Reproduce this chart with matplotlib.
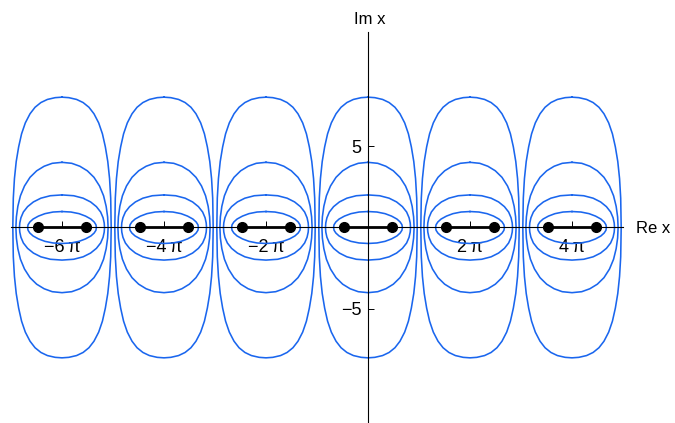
import numpy as np
import matplotlib.pyplot as plt

plt.rcParams['font.family'] = ['Liberation Sans', 'DejaVu Sans']

# centres of the cells (multiples of 2*pi) and their tick labels
centers = [-6 * np.pi, -4 * np.pi, -2 * np.pi, 0.0, 2 * np.pi, 4 * np.pi]
xtick_pos = [-6 * np.pi, -4 * np.pi, -2 * np.pi, 2 * np.pi, 4 * np.pi]
xtick_lab = ['\u22126\u2009\u03c0', '\u22124\u2009\u03c0', '\u22122\u2009\u03c0',
             '2\u2009\u03c0', '4\u2009\u03c0']
ytick_pos = [-5, 5]
ytick_lab = ['\u22125', '5']

# half length of the black cut (turning points at centre -/+ this)
cut_half = 1.48

# one quarter of each closed orbit (offset from centre, upper right), top -> axis
h1_x = [0.00, 0.55, 1.05, 1.45, 1.78, 1.98, 2.09, 2.12]
h1_y = [0.98, 0.95, 0.85, 0.70, 0.52, 0.34, 0.17, 0.00]

h2_x = [0.00, 0.72, 1.30, 1.76, 2.12, 2.38, 2.53, 2.60, 2.62]
h2_y = [2.00, 1.95, 1.80, 1.57, 1.28, 0.95, 0.60, 0.28, 0.00]

h4_x = [0.00, 0.60, 1.10, 1.56, 1.97, 2.31, 2.56, 2.72, 2.81, 2.84]
h4_y = [4.00, 3.94, 3.76, 3.48, 3.08, 2.55, 1.95, 1.30, 0.65, 0.00]

h8_x = [0.00, 0.42, 0.90, 1.30, 1.66, 1.97, 2.26, 2.49, 2.67, 2.82, 2.93, 3.00, 3.03]
h8_y = [8.00, 7.97, 7.86, 7.67, 7.38, 6.98, 6.42, 5.75, 4.95, 4.05, 3.00, 1.80, 0.00]

orbits = [(h1_x, h1_y), (h2_x, h2_y), (h4_x, h4_y), (h8_x, h8_y)]


def closed(qx, qy):
    qx, qy = np.asarray(qx), np.asarray(qy)
    xs = np.concatenate([qx, qx[::-1], -qx, -qx[::-1]])
    ys = np.concatenate([qy, -qy[::-1], -qy, qy[::-1]])
    return xs, ys


fig = plt.figure(figsize=(6.75, 4.23), dpi=100)
ax = fig.add_axes([11 / 675, 0.0, 612 / 675, 391 / 423])

blue = '#1a66ee'
for c in centers:
    for qx, qy in orbits:
        xs, ys = closed(qx, qy)
        ax.plot(xs + c, ys, color=blue, lw=1.15, zorder=2)
    ax.plot([c - cut_half, c + cut_half], [0, 0], color='black', lw=2.0,
            zorder=4, solid_capstyle='butt')
    ax.plot([c - cut_half, c + cut_half], [0, 0], 'o', color='black',
            ms=7, zorder=5)

ax.set_xlim(-7 * np.pi, 5 * np.pi)
ax.set_ylim(-12, 12)

for s in ['top', 'right']:
    ax.spines[s].set_visible(False)
ax.spines['left'].set_position(('data', 0))
ax.spines['bottom'].set_position(('data', 0))
for s in ['left', 'bottom']:
    ax.spines[s].set_linewidth(0.8)
    ax.spines[s].set_zorder(3)

ax.set_xticks(xtick_pos)
ax.set_xticklabels(xtick_lab)
ax.set_yticks(ytick_pos)
ax.set_yticklabels(ytick_lab)
ax.tick_params(axis='x', direction='in', length=4, width=0.7, pad=8,
               labelsize=13)
ax.tick_params(axis='y', direction='in', length=4, width=0.7, pad=4.5,
               labelsize=13)
ax.patch.set_visible(False)

fig.text(370 / 675, 1 - 19 / 423, 'Im x', ha='center', va='center', fontsize=12)
fig.text(636 / 675, 1 - 228 / 423, 'Re x', ha='left', va='center', fontsize=12)

fig.savefig('out.png', dpi=100)
